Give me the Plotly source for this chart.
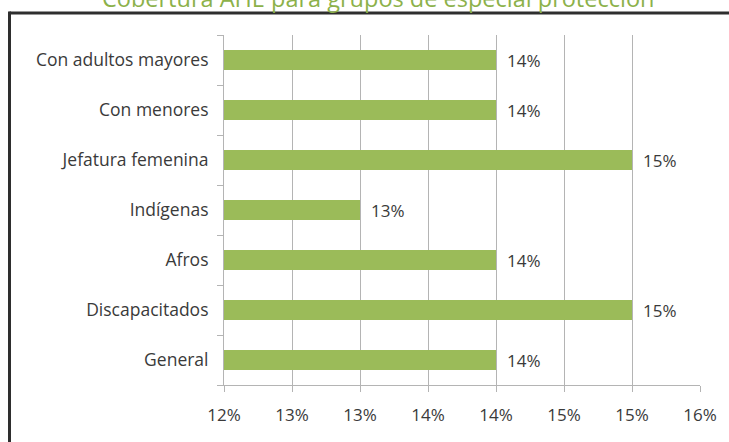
import plotly.graph_objects as go

# Groups listed bottom to top
categories = ["General", "Discapacitados", "Afros", "Indígenas",
              "Jefatura femenina", "Con menores", "Con adultos mayores"]
coverage = [0.14, 0.15, 0.14, 0.13, 0.15, 0.14, 0.14]

# Axis ticks every half point; labels rounded to whole percent (half up)
tick_values = [0.12, 0.125, 0.13, 0.135, 0.14, 0.145, 0.15, 0.155]
tick_labels = [f"{int(v * 100 + 0.5 + 1e-9)}%" for v in tick_values]

title_text = "Cobertura AHE para grupos de especial protección"

W, H = 729, 442
L, R, T, B = 224, 29, 35, 57
font_family = "'Open Sans', sans-serif"
text_color = "#3a3a3a"
grid_color = "#b4b4b4"
label_size = 17.5

fig = go.Figure()
fig.add_trace(go.Bar(
    x=coverage,
    y=categories,
    orientation="h",
    marker=dict(color="#9bbb59", line=dict(width=0)),
    hoverinfo="skip",
))

# Value labels to the right of each bar
for cat, val in zip(categories, coverage):
    fig.add_annotation(
        x=val, y=cat, xref="x", yref="y",
        text=f"{round(val * 100)}%",
        showarrow=False, xanchor="left", yanchor="middle",
        xshift=9, font=dict(size=17, color=text_color, family=font_family),
    )

# Chart frame: dark border running off the right and bottom edges
pw, ph = W - L - R, H - T - B
def px_to_paper_x(px):
    return (px - L) / pw
def px_to_paper_y(py):
    return 1 - (py - T) / ph

fig.add_shape(type="line", xref="paper", yref="paper",
              x0=px_to_paper_x(9.5), x1=px_to_paper_x(W + 10),
              y0=px_to_paper_y(13), y1=px_to_paper_y(13),
              line=dict(color="#2e2e2e", width=3))
fig.add_shape(type="line", xref="paper", yref="paper",
              x0=px_to_paper_x(9.5), x1=px_to_paper_x(9.5),
              y0=px_to_paper_y(11.5), y1=px_to_paper_y(H + 10),
              line=dict(color="#2e2e2e", width=3))

# Title, partly above the visible area
fig.add_annotation(
    x=px_to_paper_x(378), y=px_to_paper_y(-2), xref="paper", yref="paper",
    text=title_text, showarrow=False, xanchor="center", yanchor="middle",
    font=dict(size=23.5, color="#8cb14a", family=font_family),
)

fig.update_layout(
    width=W, height=H,
    margin=dict(l=L, r=R, t=T, b=B, pad=0),
    paper_bgcolor="white", plot_bgcolor="white",
    showlegend=False,
    bargap=0.6,
    font=dict(family=font_family, size=label_size, color=text_color),
)
fig.update_xaxes(
    range=[0.12, 0.155],
    tickvals=tick_values, ticktext=tick_labels,
    showgrid=True, gridcolor=grid_color, gridwidth=1,
    showline=True, linecolor=grid_color, linewidth=1,
    ticks="outside", ticklen=6, tickcolor=grid_color,
    ticklabelstandoff=9,
    zeroline=False,
    tickfont=dict(size=17, color=text_color, family=font_family),
)
fig.update_yaxes(
    categoryorder="array", categoryarray=categories,
    showline=True, linecolor=grid_color, linewidth=1,
    ticks="outside", ticklen=6, tickcolor=grid_color,
    tickson="boundaries", showgrid=False,
    ticklabelstandoff=11,
    tickfont=dict(size=label_size, color=text_color, family=font_family),
)

fig.write_html("out.html")
